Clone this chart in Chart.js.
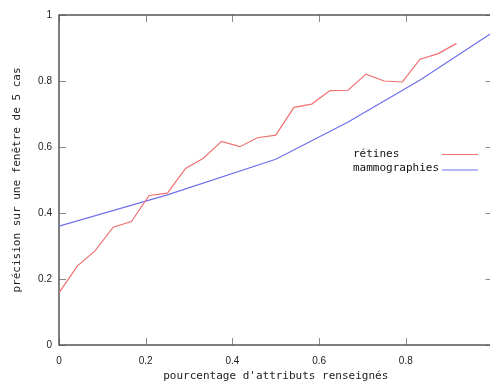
<!DOCTYPE html>
<html>
<head>
<meta charset="utf-8">
<script src="https://cdn.jsdelivr.net/npm/chart.js@4/dist/chart.umd.min.js"></script>
<style>
  html, body { margin: 0; padding: 0; background: #fff; overflow: hidden; }
  canvas { display: block; }
</style>
</head>
<body>
<canvas id="c" width="495" height="383"></canvas>
<script>
// Precision over a 5-case window vs. fraction of filled attributes
const retinesX = [0, 0.042, 0.083, 0.125, 0.167, 0.208, 0.25, 0.292, 0.333, 0.375, 0.417, 0.458,
                  0.5, 0.542, 0.583, 0.625, 0.667, 0.708, 0.75, 0.792, 0.833, 0.875, 0.917];
const retinesY = [0.158, 0.239, 0.285, 0.357, 0.374, 0.453, 0.46, 0.535, 0.566, 0.617, 0.601, 0.628,
                  0.636, 0.72, 0.73, 0.771, 0.772, 0.821, 0.8, 0.797, 0.866, 0.883, 0.914];
const mammoX = [0, 0.25, 0.5, 0.667, 0.833, 1];
const mammoY = [0.36, 0.455, 0.563, 0.676, 0.803, 0.947];
const xTicks = [0, 0.2, 0.4, 0.6, 0.8, 1];
const yTicks = [0, 0.2, 0.4, 0.6, 0.8, 1];

const seriesNames = ['rétines', 'mammographies'];
const seriesColors = ['#f07070', '#6f6fee'];

const toPoints = (xs, ys) => xs.map((x, i) => ({ x: x, y: ys[i] }));

const mono = 'DejaVu Sans Mono';
const sans = 'Liberation Sans';

// frame with inward tick marks on all four sides
const framePlugin = {
  id: 'frame',
  beforeDatasetsDraw(chart) {
    const { ctx, chartArea: a, scales } = chart;
    const len = 7;
    ctx.save();
    ctx.strokeStyle = '#8a8a8a';
    ctx.lineWidth = 1;
    ctx.beginPath();
    xTicks.forEach(v => {
      const px = Math.round(scales.x.getPixelForValue(v)) + 0.5;
      ctx.moveTo(px, a.bottom); ctx.lineTo(px, a.bottom - len);
      ctx.moveTo(px, a.top); ctx.lineTo(px, a.top + len);
    });
    yTicks.forEach(v => {
      const py = Math.round(scales.y.getPixelForValue(v)) + 0.5;
      ctx.moveTo(a.left, py); ctx.lineTo(a.left + len, py);
      ctx.moveTo(a.right, py); ctx.lineTo(a.right - len, py);
    });
    ctx.stroke();
    ctx.strokeStyle = '#555';
    ctx.lineWidth = 1.5;
    ctx.strokeRect(a.left, a.top, a.right - a.left, a.bottom - a.top);
    ctx.restore();
  }
};

// key drawn inside the plot area, text left and line sample right
const keyPlugin = {
  id: 'key',
  afterDatasetsDraw(chart) {
    const { ctx } = chart;
    const rows = [154, 168.5];
    ctx.save();
    ctx.font = '11px "' + mono + '"';
    ctx.textBaseline = 'middle';
    ctx.textAlign = 'left';
    chart.data.datasets.forEach((ds, i) => {
      ctx.fillStyle = '#111';
      ctx.fillText(ds.label, 353, rows[i]);
      ctx.strokeStyle = ds.borderColor;
      ctx.lineWidth = 1.2;
      ctx.beginPath();
      ctx.moveTo(442, rows[i] + 0.5 + i);
      ctx.lineTo(478, rows[i] + 0.5 + i);
      ctx.stroke();
    });
    ctx.restore();
  }
};

new Chart(document.getElementById('c'), {
  type: 'scatter',
  data: {
    datasets: [
      {
        label: seriesNames[0],
        data: toPoints(retinesX, retinesY),
        showLine: true,
        borderColor: seriesColors[0],
        borderWidth: 1.2,
        pointRadius: 0,
        tension: 0
      },
      {
        label: seriesNames[1],
        data: toPoints(mammoX, mammoY),
        showLine: true,
        borderColor: seriesColors[1],
        borderWidth: 1.2,
        pointRadius: 0,
        tension: 0
      }
    ]
  },
  options: {
    responsive: false,
    animation: false,
    layout: { autoPadding: false, padding: { top: 15, right: 2.5, left: 0, bottom: 0 } },
    plugins: {
      legend: { display: false },
      tooltip: { enabled: false }
    },
    scales: {
      x: {
        type: 'linear',
        min: 0,
        max: 1,
        afterFit(s) { s.height = 38; s.paddingLeft = 0; s.paddingRight = 0; },
        afterBuildTicks(s) { s.ticks = xTicks.map(v => ({ value: v })); },
        grid: { display: false, drawTicks: false },
        border: { display: false },
        ticks: {
          padding: 10,
          maxRotation: 0,
          color: '#222',
          font: { family: sans, size: 10 },
          callback: v => String(v)
        },
        title: {
          display: true,
          text: "pourcentage d'attributs renseignés",
          color: '#222',
          font: { family: mono, size: 11 },
          padding: { top: 0, bottom: 0 }
        }
      },
      y: {
        type: 'linear',
        min: 0,
        max: 1,
        afterFit(s) { s.width = 59; },
        afterBuildTicks(s) { s.ticks = yTicks.map(v => ({ value: v })); },
        grid: { display: false, drawTicks: false },
        border: { display: false },
        ticks: {
          padding: 7,
          color: '#222',
          font: { family: sans, size: 10 },
          callback: v => String(v)
        },
        title: {
          display: true,
          text: 'précision sur une fenêtre de 5 cas',
          color: '#222',
          font: { family: mono, size: 11 },
          padding: { top: 11, bottom: 0 }
        }
      }
    }
  },
  plugins: [framePlugin, keyPlugin]
});
</script>
</body>
</html>
